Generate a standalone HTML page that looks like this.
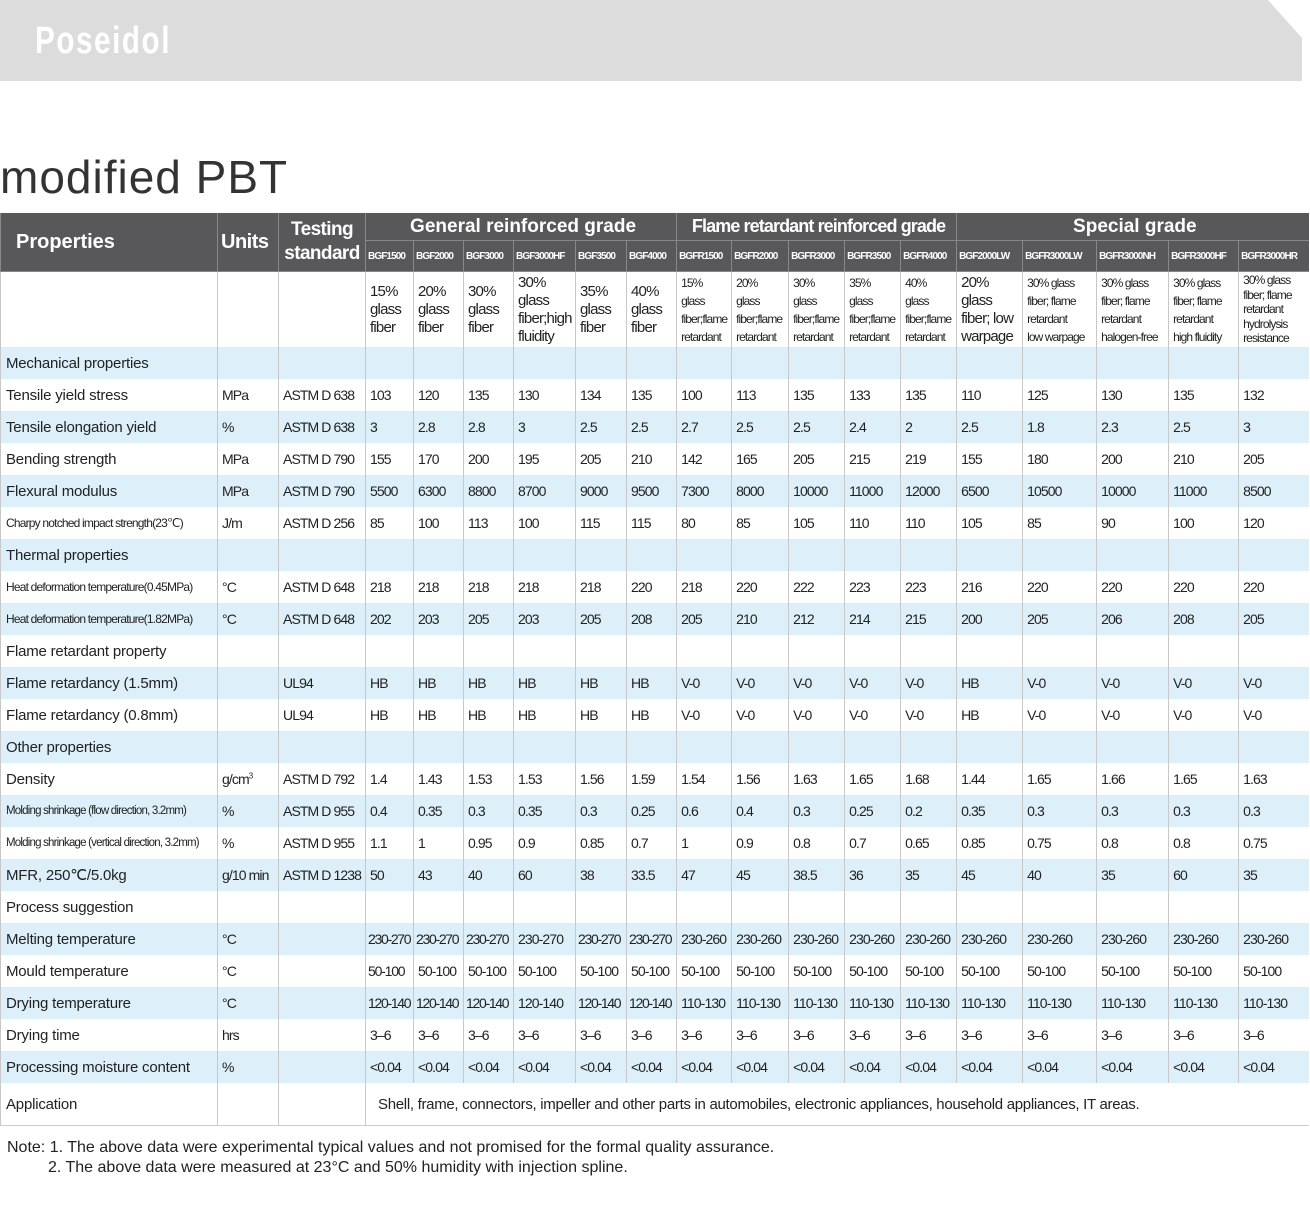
<!DOCTYPE html>
<html><head><meta charset="utf-8"><style>
body{margin:0;width:1310px;height:1205px;background:#fff;position:relative;font-family:"Liberation Sans",sans-serif;color:#222;overflow:hidden}
.banner{position:absolute;left:0;top:0;width:1302px;height:81px;background:#dcdcdc;clip-path:polygon(0 0,1268px 0,1302px 38px,1302px 81px,0 81px)}
.logo{position:absolute;left:35px;top:20px;font:bold 38px "Liberation Sans",sans-serif;color:#fff;letter-spacing:2px;transform:scaleX(0.78);transform-origin:0 0}
.title{position:absolute;left:0;top:150px;font:46px "Liberation Sans",sans-serif;color:#333;letter-spacing:1px}
table{position:absolute;left:0;top:213px;border-collapse:collapse;table-layout:fixed;width:1308px}
td{padding:0 0 0 4px;font-size:14px;white-space:nowrap;overflow:hidden;border-left:1px solid #c8c8c8;height:32px;letter-spacing:-0.9px}
tr.h td{background:#58585a;color:#fff;font-weight:bold;border-left:1px solid #888;border-bottom:1px solid #888}
tr.g td{font-size:19px;text-align:center;height:27px;letter-spacing:0}
tr.m td{font-size:10px;height:30px;padding:0 0 0 2px;letter-spacing:-0.9px}
tr.d td{height:75px;font-size:15px;white-space:normal;line-height:18px;vertical-align:middle;letter-spacing:-0.8px}
tr.d td.s{font-size:12px;line-height:18px;letter-spacing:-0.9px}
tr.b td{background:#ddeff9}
td.l{font-size:15px;letter-spacing:-0.2px;padding-left:5px}
td.ls{font-size:12px;padding-left:5px;letter-spacing:-0.8px}
tr.app td{height:42px;border-bottom:1px solid #ccc}
.note{position:absolute;left:7px;top:1138px;font:16px "Liberation Sans",sans-serif;color:#222;line-height:20px;letter-spacing:0px}
</style></head><body>
<div class="banner"></div><div class="logo">Poseidol</div>
<div class="title">modified PBT</div>
<table>
<colgroup><col style="width:217px"><col style="width:61px"><col style="width:87px"><col style="width:48px"><col style="width:50px"><col style="width:50px"><col style="width:62px"><col style="width:51px"><col style="width:50px"><col style="width:55px"><col style="width:57px"><col style="width:56px"><col style="width:56px"><col style="width:56px"><col style="width:66px"><col style="width:74px"><col style="width:72px"><col style="width:70px"><col style="width:70px"></colgroup>
<tr class="h g"><td rowspan="2" style="font-size:20px;text-align:left;padding-left:15px">Properties</td><td rowspan="2" style="font-size:20px;text-align:left;padding-left:3px;letter-spacing:-0.5px">Units</td><td rowspan="2" style="font-size:19px;line-height:24px;padding:0;letter-spacing:-0.6px">Testing<br>standard</td><td colspan="6">General reinforced grade</td><td colspan="5" style="letter-spacing:-0.9px;font-size:18px">Flame retardant reinforced grade</td><td colspan="5">Special grade</td></tr>
<tr class="h m"><td>BGF1500</td><td>BGF2000</td><td>BGF3000</td><td>BGF3000HF</td><td>BGF3500</td><td>BGF4000</td><td>BGFR1500</td><td>BGFR2000</td><td>BGFR3000</td><td>BGFR3500</td><td>BGFR4000</td><td>BGF2000LW</td><td>BGFR3000LW</td><td>BGFR3000NH</td><td>BGFR3000HF</td><td>BGFR3000HR</td></tr>
<tr class="d"><td></td><td></td><td></td><td>15%<br>glass<br>fiber</td><td>20%<br>glass<br>fiber</td><td>30%<br>glass<br>fiber</td><td>30%<br>glass<br>fiber;high<br>fluidity</td><td>35%<br>glass<br>fiber</td><td>40%<br>glass<br>fiber</td><td class="s">15%<br>glass<br>fiber;flame<br>retardant</td><td class="s">20%<br>glass<br>fiber;flame<br>retardant</td><td class="s">30%<br>glass<br>fiber;flame<br>retardant</td><td class="s">35%<br>glass<br>fiber;flame<br>retardant</td><td class="s">40%<br>glass<br>fiber;flame<br>retardant</td><td>20%<br>glass<br>fiber; low<br>warpage</td><td class="s">30% glass<br>fiber; flame<br>retardant<br>low warpage</td><td class="s">30% glass<br>fiber; flame<br>retardant<br>halogen-free</td><td class="s">30% glass<br>fiber; flame<br>retardant<br>high fluidity</td><td class="s" style="line-height:14.5px">30% glass<br>fiber; flame<br>retardant<br>hydrolysis<br>resistance</td></tr>
<tr class="b"><td class="l">Mechanical properties</td><td></td><td></td><td></td><td></td><td></td><td></td><td></td><td></td><td></td><td></td><td></td><td></td><td></td><td></td><td></td><td></td><td></td><td></td></tr>
<tr><td class="l">Tensile yield stress</td><td>MPa</td><td>ASTM D 638</td><td>103</td><td>120</td><td>135</td><td>130</td><td>134</td><td>135</td><td>100</td><td>113</td><td>135</td><td>133</td><td>135</td><td>110</td><td>125</td><td>130</td><td>135</td><td>132</td></tr>
<tr class="b"><td class="l">Tensile elongation yield</td><td>%</td><td>ASTM D 638</td><td>3</td><td>2.8</td><td>2.8</td><td>3</td><td>2.5</td><td>2.5</td><td>2.7</td><td>2.5</td><td>2.5</td><td>2.4</td><td>2</td><td>2.5</td><td>1.8</td><td>2.3</td><td>2.5</td><td>3</td></tr>
<tr><td class="l">Bending strength</td><td>MPa</td><td>ASTM D 790</td><td>155</td><td>170</td><td>200</td><td>195</td><td>205</td><td>210</td><td>142</td><td>165</td><td>205</td><td>215</td><td>219</td><td>155</td><td>180</td><td>200</td><td>210</td><td>205</td></tr>
<tr class="b"><td class="l">Flexural modulus</td><td>MPa</td><td>ASTM D 790</td><td>5500</td><td>6300</td><td>8800</td><td>8700</td><td>9000</td><td>9500</td><td>7300</td><td>8000</td><td>10000</td><td>11000</td><td>12000</td><td>6500</td><td>10500</td><td>10000</td><td>11000</td><td>8500</td></tr>
<tr><td class="ls">Charpy notched impact strength(23℃)</td><td>J/m</td><td>ASTM D 256</td><td>85</td><td>100</td><td>113</td><td>100</td><td>115</td><td>115</td><td>80</td><td>85</td><td>105</td><td>110</td><td>110</td><td>105</td><td>85</td><td>90</td><td>100</td><td>120</td></tr>
<tr class="b"><td class="l">Thermal properties</td><td></td><td></td><td></td><td></td><td></td><td></td><td></td><td></td><td></td><td></td><td></td><td></td><td></td><td></td><td></td><td></td><td></td><td></td></tr>
<tr><td class="ls">Heat deformation temperature(0.45MPa)</td><td>°C</td><td>ASTM D 648</td><td>218</td><td>218</td><td>218</td><td>218</td><td>218</td><td>220</td><td>218</td><td>220</td><td>222</td><td>223</td><td>223</td><td>216</td><td>220</td><td>220</td><td>220</td><td>220</td></tr>
<tr class="b"><td class="ls">Heat deformation temperature(1.82MPa)</td><td>°C</td><td>ASTM D 648</td><td>202</td><td>203</td><td>205</td><td>203</td><td>205</td><td>208</td><td>205</td><td>210</td><td>212</td><td>214</td><td>215</td><td>200</td><td>205</td><td>206</td><td>208</td><td>205</td></tr>
<tr><td class="l">Flame retardant property</td><td></td><td></td><td></td><td></td><td></td><td></td><td></td><td></td><td></td><td></td><td></td><td></td><td></td><td></td><td></td><td></td><td></td><td></td></tr>
<tr class="b"><td class="l">Flame retardancy (1.5mm)</td><td></td><td>UL94</td><td>HB</td><td>HB</td><td>HB</td><td>HB</td><td>HB</td><td>HB</td><td>V-0</td><td>V-0</td><td>V-0</td><td>V-0</td><td>V-0</td><td>HB</td><td>V-0</td><td>V-0</td><td>V-0</td><td>V-0</td></tr>
<tr><td class="l">Flame retardancy (0.8mm)</td><td></td><td>UL94</td><td>HB</td><td>HB</td><td>HB</td><td>HB</td><td>HB</td><td>HB</td><td>V-0</td><td>V-0</td><td>V-0</td><td>V-0</td><td>V-0</td><td>HB</td><td>V-0</td><td>V-0</td><td>V-0</td><td>V-0</td></tr>
<tr class="b"><td class="l">Other properties</td><td></td><td></td><td></td><td></td><td></td><td></td><td></td><td></td><td></td><td></td><td></td><td></td><td></td><td></td><td></td><td></td><td></td><td></td></tr>
<tr><td class="l">Density</td><td>g/cm<sup style="font-size:8px">3</sup></td><td>ASTM D 792</td><td>1.4</td><td>1.43</td><td>1.53</td><td>1.53</td><td>1.56</td><td>1.59</td><td>1.54</td><td>1.56</td><td>1.63</td><td>1.65</td><td>1.68</td><td>1.44</td><td>1.65</td><td>1.66</td><td>1.65</td><td>1.63</td></tr>
<tr class="b"><td class="ls" style="font-size:11.5px">Molding shrinkage (flow direction, 3.2mm)</td><td>%</td><td>ASTM D 955</td><td>0.4</td><td>0.35</td><td>0.3</td><td>0.35</td><td>0.3</td><td>0.25</td><td>0.6</td><td>0.4</td><td>0.3</td><td>0.25</td><td>0.2</td><td>0.35</td><td>0.3</td><td>0.3</td><td>0.3</td><td>0.3</td></tr>
<tr><td class="ls" style="font-size:11.5px">Molding shrinkage (vertical direction, 3.2mm)</td><td>%</td><td>ASTM D 955</td><td>1.1</td><td>1</td><td>0.95</td><td>0.9</td><td>0.85</td><td>0.7</td><td>1</td><td>0.9</td><td>0.8</td><td>0.7</td><td>0.65</td><td>0.85</td><td>0.75</td><td>0.8</td><td>0.8</td><td>0.75</td></tr>
<tr class="b"><td class="l">MFR, 250℃/5.0kg</td><td>g/10 min</td><td>ASTM D 1238</td><td>50</td><td>43</td><td>40</td><td>60</td><td>38</td><td>33.5</td><td>47</td><td>45</td><td>38.5</td><td>36</td><td>35</td><td>45</td><td>40</td><td>35</td><td>60</td><td>35</td></tr>
<tr><td class="l">Process suggestion</td><td></td><td></td><td></td><td></td><td></td><td></td><td></td><td></td><td></td><td></td><td></td><td></td><td></td><td></td><td></td><td></td><td></td><td></td></tr>
<tr class="b"><td class="l">Melting temperature</td><td>°C</td><td></td><td style="letter-spacing:-1.3px;padding-left:2px">230-270</td><td style="letter-spacing:-1.3px;padding-left:2px">230-270</td><td style="letter-spacing:-1.3px;padding-left:2px">230-270</td><td>230-270</td><td style="letter-spacing:-1.3px;padding-left:2px">230-270</td><td style="letter-spacing:-1.3px;padding-left:2px">230-270</td><td>230-260</td><td>230-260</td><td>230-260</td><td>230-260</td><td>230-260</td><td>230-260</td><td>230-260</td><td>230-260</td><td>230-260</td><td>230-260</td></tr>
<tr><td class="l">Mould temperature</td><td>°C</td><td></td><td style="letter-spacing:-1.2px;padding-left:2px">50-100</td><td>50-100</td><td>50-100</td><td>50-100</td><td>50-100</td><td>50-100</td><td>50-100</td><td>50-100</td><td>50-100</td><td>50-100</td><td>50-100</td><td>50-100</td><td>50-100</td><td>50-100</td><td>50-100</td><td>50-100</td></tr>
<tr class="b"><td class="l">Drying temperature</td><td>°C</td><td></td><td style="letter-spacing:-1.3px;padding-left:2px">120-140</td><td style="letter-spacing:-1.3px;padding-left:2px">120-140</td><td style="letter-spacing:-1.3px;padding-left:2px">120-140</td><td>120-140</td><td style="letter-spacing:-1.3px;padding-left:2px">120-140</td><td style="letter-spacing:-1.3px;padding-left:2px">120-140</td><td>110-130</td><td>110-130</td><td>110-130</td><td>110-130</td><td>110-130</td><td>110-130</td><td>110-130</td><td>110-130</td><td>110-130</td><td>110-130</td></tr>
<tr><td class="l">Drying time</td><td>hrs</td><td></td><td>3–6</td><td>3–6</td><td>3–6</td><td>3–6</td><td>3–6</td><td>3–6</td><td>3–6</td><td>3–6</td><td>3–6</td><td>3–6</td><td>3–6</td><td>3–6</td><td>3–6</td><td>3–6</td><td>3–6</td><td>3–6</td></tr>
<tr class="b"><td class="l">Processing moisture content</td><td>%</td><td></td><td>&lt;0.04</td><td>&lt;0.04</td><td>&lt;0.04</td><td>&lt;0.04</td><td>&lt;0.04</td><td>&lt;0.04</td><td>&lt;0.04</td><td>&lt;0.04</td><td>&lt;0.04</td><td>&lt;0.04</td><td>&lt;0.04</td><td>&lt;0.04</td><td>&lt;0.04</td><td>&lt;0.04</td><td>&lt;0.04</td><td>&lt;0.04</td></tr>
<tr class="app"><td class="l">Application</td><td></td><td></td><td colspan="16" style="padding-left:12px;font-size:15px;letter-spacing:-0.3px">Shell, frame, connectors, impeller and other parts in automobiles, electronic appliances, household appliances, IT areas.</td></tr>
</table>
<div class="note">Note: 1. The above data were experimental typical values and not promised for the formal quality assurance.<br><span style="padding-left:41px">2. The above data were measured at 23°C and 50% humidity with injection spline.</span></div>
</body></html>
